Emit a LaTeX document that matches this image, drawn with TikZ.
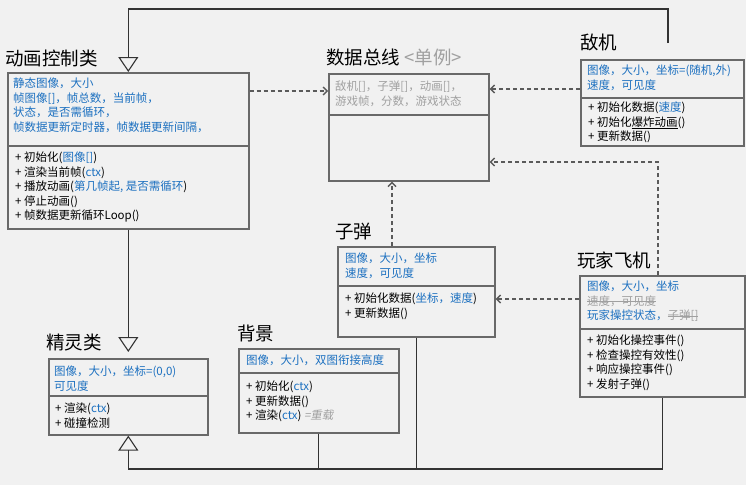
\documentclass[tikz,border=0pt]{standalone}
\usepackage{fontspec}
\setmainfont{Noto Sans CJK SC}
\newfontfamily\oblq{Noto Sans CJK SC}[FakeSlant=0.2]
\usetikzlibrary{arrows.meta, positioning}
\definecolor{Clsazul}{RGB}{28,112,192}
\definecolor{Clsgris}{RGB}{160,160,160}
\definecolor{Clsborde}{RGB}{105,105,105}
\definecolor{Clsfondo}{RGB}{241,241,241}
\definecolor{Clslinea}{RGB}{90,90,90}
\newcommand{\clsfont}{\fontsize{11.5}{14.5}\selectfont}
\newcommand{\ttlfont}{\fontsize{18.5}{22}\selectfont}
\newcommand{\prm}[1]{{\color{Clsazul}#1}}
\newsavebox\clsbox
\newcommand{\strk}[1]{\sbox\clsbox{#1}\rlap{\rule[0.32em]{\wd\clsbox}{0.6pt}}\usebox\clsbox}
\newcommand{\ulin}[1]{\sbox\clsbox{#1}\rlap{\rule[-0.15em]{\wd\clsbox}{0.6pt}}\usebox\clsbox}

\begin{document}
\begin{tikzpicture}[x=1pt, y=-1pt,
  cls/.style ={rectangle, draw=Clsborde, line width=1.6pt,
               fill=Clsfondo, anchor=north west, inner sep=0pt},
  ttl/.style ={anchor=west, inner sep=0pt, font=\ttlfont},
  att/.style ={inner sep=0pt, align=left, font=\clsfont, text=Clsazul},
  met/.style ={inner sep=0pt, align=left, font=\clsfont},
  sep/.style ={draw=Clsborde, line width=1.6pt},
  gen/.style ={line width=1.1pt, draw=black!80},
  tri/.style ={gen, -{Triangle[open, length=15pt, width=20pt, line width=1.1pt]}},
  dep/.style ={-{Straight Barb[length=4pt, width=8pt]}, line width=1.4pt,
               draw=Clslinea, dash pattern=on 4pt off 3pt},
]

\fill[Clsfondo] (0,0) rectangle (746,485);
\useasboundingbox (0,0) rectangle (746,485);

%% ═══════════════ 动画控制类 ═══════════════
\node[ttl] (animT) at (5,58) {动画控制类};
\node[cls, minimum width=241pt, minimum height=156pt] (anim) at (7,72) {};
\coordinate (animS) at (anim.west |- 0,146);
\draw[sep] (animS) -- (anim.east |- animS);
\node[att, below right=6pt and 6pt of anim.north west] (animA)
  {静态图像，大小\\帧图像[]，帧总数，当前帧，\\状态，是否需循环，\\帧数据更新定时器，帧数据更新间隔，};
\node[met, below right=6pt and 8pt of animS] (animM)
  {+ 初始化(\prm{图像[]})\\+ 渲染当前帧(\prm{ctx})\\+ 播放动画(\prm{第几帧起, 是否需循环})\\+ 停止动画()\\+ 帧数据更新循环Loop()};

%% ═══════════════ 数据总线 ═══════════════
\node[ttl] (busT) at (326,57) {数据总线 {\color{Clsgris}<单例>}};
\node[cls, minimum width=160pt, minimum height=107pt] (bus) at (328,73) {};
\coordinate (busS) at (bus.west |- 0,115);
\draw[sep] (busS) -- (bus.east |- busS);
\node[att, text=Clsgris, below right=8pt and 7pt of bus.north west] (busA)
  {敌机[]，子弹[]，动画[]，\\游戏帧，分数，游戏状态};

%% ═══════════════ 敌机 ═══════════════
\node[ttl] (enemyT) at (580,42) {敌机};
\node[cls, minimum width=163pt, minimum height=86pt] (enemy) at (580,59) {};
\coordinate (enemyS) at (enemy.west |- 0,98);
\draw[sep] (enemyS) -- (enemy.east |- enemyS);
\node[att, below right=6pt and 7pt of enemy.north west] (enemyA)
  {图像，大小，坐标=(随机,外)\\速度，可见度};
\node[met, below right=4pt and 8pt of enemyS] (enemyM)
  {+ 初始化数据(\prm{速度})\\+ 初始化\ulin{爆炸动画}()\\+ 更新数据()};

%% ═══════════════ 子弹 ═══════════════
\node[ttl] (bulletT) at (335,231) {子弹};
\node[cls, minimum width=157pt, minimum height=90pt] (bullet) at (337,246) {};
\coordinate (bulletS) at (bullet.west |- 0,286);
\draw[sep] (bulletS) -- (bullet.east |- bulletS);
\node[att, below right=7pt and 8pt of bullet.north west] (bulletA)
  {图像，大小，坐标\\速度，可见度};
\node[met, below right=7pt and 8pt of bulletS] (bulletM)
  {+ 初始化数据(\prm{坐标，速度})\\+ 更新数据()};

%% ═══════════════ 玩家飞机 ═══════════════
\node[ttl] (playerT) at (577,260) {玩家飞机};
\node[cls, minimum width=165pt, minimum height=121pt] (player) at (579,275) {};
\coordinate (playerS) at (player.west |- 0,329);
\draw[sep] (playerS) -- (player.east |- playerS);
\node[att, below right=6pt and 8pt of player.north west] (playerA)
  {图像，大小，坐标\\{\color{Clsgris}\strk{速度，可见度}}\\玩家操控状态，{\color{Clsgris}\strk{子弹[]}}};
\node[met, below right=6pt and 8pt of playerS] (playerM)
  {+ 初始化操控事件()\\+ 检查操控有效性()\\+ 响应操控事件()\\+ 发射子弹()};

%% ═══════════════ 精灵类 ═══════════════
\node[ttl] (spriteT) at (46,343) {精灵类};
\node[cls, minimum width=159pt, minimum height=76pt] (sprite) at (48,358) {};
\coordinate (spriteS) at (sprite.west |- 0,396);
\draw[sep] (spriteS) -- (sprite.east |- spriteS);
\node[att, below right=8pt and 6pt of sprite.north west] (spriteA)
  {图像，大小，坐标=(0,0)\\可见度};
\node[met, below right=7pt and 7pt of spriteS] (spriteM)
  {+ 渲染(\prm{ctx})\\+ 碰撞检测};

%% ═══════════════ 背景 ═══════════════
\node[ttl] (bgT) at (237,333) {背景};
\node[cls, minimum width=160pt, minimum height=84pt] (bg) at (238,348) {};
\coordinate (bgS) at (bg.west |- 0,373);
\draw[sep] (bgS) -- (bg.east |- bgS);
\node[att, below right=7pt and 8pt of bg.north west] (bgA)
  {图像，大小，双图衔接高度};
\node[met, below right=8pt and 8pt of bgS] (bgM)
  {+ 初始化(\prm{ctx})\\+ 更新数据()\\+ 渲染(\prm{ctx}) {\color{Clsgris}\oblq =重载}};

%% ═══ 继承 ═══
\coordinate (etop)  at (668,43);
\coordinate (trunk) at (sprite.south |- 0,469);
\draw[tri] (etop) -- ++(0,-34) -| (anim.north);
\draw[tri, shorten >=6pt] (anim.south) -- (sprite.north);
\draw[tri] (player.south) |- (trunk) -- (sprite.south);
\draw[gen] (bg.south) -- (bg.south |- trunk);
\draw[gen] (bullet.south) -- (bullet.south |- trunk);

%% ═══ 依赖 ═══
\draw[dep] (anim.east |- 0,91) -- (bus.west |- 0,91);
\draw[dep] (enemy.west |- 0,89) -- (bus.east |- 0,89);
\draw[dep] (player.north -| 658,0) |- (bus.east |- 0,162);
\draw[dep] (bullet.north -| 392,0) -- (bus.south -| 392,0);
\draw[dep] (player.west |- 0,299) -- (bullet.east |- 0,299);

\end{tikzpicture}
\end{document}
